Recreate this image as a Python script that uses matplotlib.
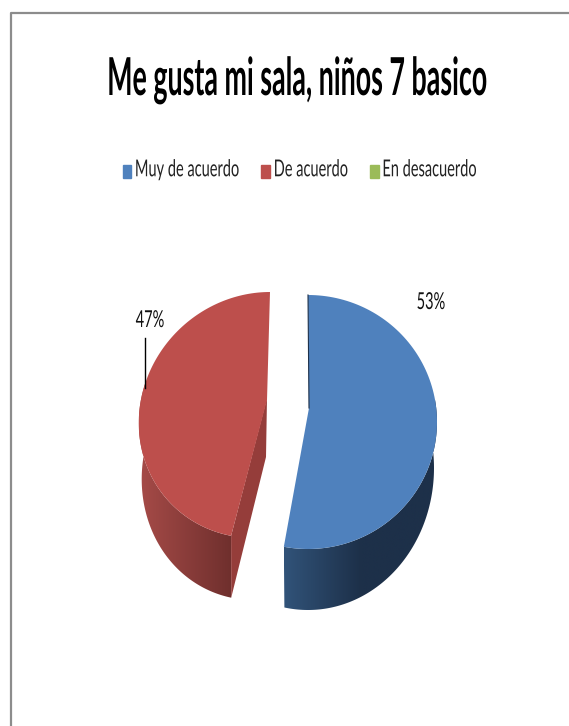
import numpy as np
import matplotlib
matplotlib.use('Agg')
import matplotlib.pyplot as plt
from matplotlib.colors import LinearSegmentedColormap
from matplotlib.patches import Patch, Polygon
from matplotlib.patheffects import AbstractPathEffect
from matplotlib.transforms import Affine2D

title = 'Me gusta mi sala, niños 7 basico'
categories = ['Muy de acuerdo', 'De acuerdo', 'En desacuerdo']
values = [53, 47, 0]
colors = ['#4f81bd', '#bd4f4c', '#9bbb59']

font = ['Lato', 'DejaVu Sans']


class Tall(AbstractPathEffect):
    # the original was squashed sideways, so stretch glyphs up from the baseline
    def __init__(self, sy):
        super().__init__()
        self.sy = sy

    def draw_path(self, renderer, gc, tpath, affine, rgbFace=None):
        renderer.draw_path(gc, tpath, Affine2D().scale(1, self.sy) + affine, rgbFace)


def arc(cx, cy, rx, ry, t0, t1, shear=0.0):
    # angles in degrees, clockwise from 12 o'clock, y axis points down
    t = np.radians(np.linspace(t0, t1, 120))
    dy = -ry * np.cos(t)
    return np.column_stack([cx + rx * np.sin(t) - shear * dy, cy + dy])


def gradient_side(ax, poly, stops):
    cmap = LinearSegmentedColormap.from_list('side', stops)
    x0, x1 = poly[:, 0].min(), poly[:, 0].max()
    y0, y1 = poly[:, 1].min(), poly[:, 1].max()
    im = ax.imshow(np.linspace(0, 1, 256).reshape(1, -1), cmap=cmap, aspect='auto',
                   extent=[x0, x1, y1, y0], zorder=2)
    clip = Polygon(poly, closed=True, transform=ax.transData, fc='none', ec='none')
    ax.add_patch(clip)
    im.set_clip_path(clip)


fig = plt.figure(figsize=(5.69, 7.26), dpi=100)
ax = fig.add_axes([0, 0, 1, 1])
ax.axis('off')

# slice angles come from the values
total = sum(values)
split = 360 * values[0] / total

# blue slice
blue_top = arc(308, 422, 129, 127, 0, split)
blue_side = np.vstack([arc(308, 422, 129, 127, 80, split),
                       arc(308, 468, 126, 142, split, 80)])
gradient_side(ax, blue_side, ['#315379', '#1d3049', '#1d3049'])
ax.add_patch(Polygon(np.vstack([[309, 408], blue_top]), closed=True, fc=colors[0], ec='none', zorder=3))
ax.plot([308, 309], [295, 408], color='#1d3049', lw=0.8, zorder=4)

# red slice
red_top = arc(262, 415, 123, 123, split, 360, shear=0.065)
red_side = np.vstack([arc(262, 415, 123, 123, split, 285, shear=0.065),
                      arc(262, 470, 120, 130, 285, split, shear=0.065)])
gradient_side(ax, red_side, ['#a64b48', '#6f2f2d'])
inner = np.array([[267, 398], [266, 457], red_side[-1], red_top[0]])
ax.add_patch(Polygon(inner, closed=True, fc='#953d3a', ec='none', zorder=3))
ax.add_patch(Polygon(np.vstack([[267, 400], red_top]), closed=True, fc=colors[1], ec='none', zorder=4))

# data labels
label_fx = [Tall(1.6)]
ax.text(431, 309, '%d%%' % values[0], ha='center', va='baseline', fontsize=10.5, family=font,
        color='#111111', zorder=5, path_effects=label_fx)
ax.text(150, 327, '%d%%' % values[1], ha='center', va='baseline', fontsize=10.5, family=font,
        color='#111111', zorder=5, path_effects=label_fx)
ax.plot([145, 145], [338, 388], color='black', lw=1, zorder=5)

# title and legend
ax.text(296.5, 95, title, ha='center', va='baseline', fontsize=19.3, family=font, fontweight='bold', color='black',
        path_effects=[Tall(1.95)])
handles = [Patch(color=c, label=n) for c, n in zip(colors, categories)]
leg = ax.legend(handles=handles, ncol=3, loc='center', bbox_to_anchor=(300 / 569, 1 - 172 / 726), frameon=False,
                prop={'family': font, 'size': 10.5}, handlelength=0.6, handleheight=1.0, handletextpad=0.25,
                columnspacing=1.45, labelcolor='#222222')
for t in leg.get_texts():
    t.set_path_effects([Tall(1.6)])

# picture frame
ax.plot([11, 11, 569], [726, 13, 13], color='#8c8c8c', lw=1.6, zorder=6)

ax.set_xlim(0, 569)
ax.set_ylim(726, 0)
fig.savefig('out.png', dpi=100, facecolor='white')
